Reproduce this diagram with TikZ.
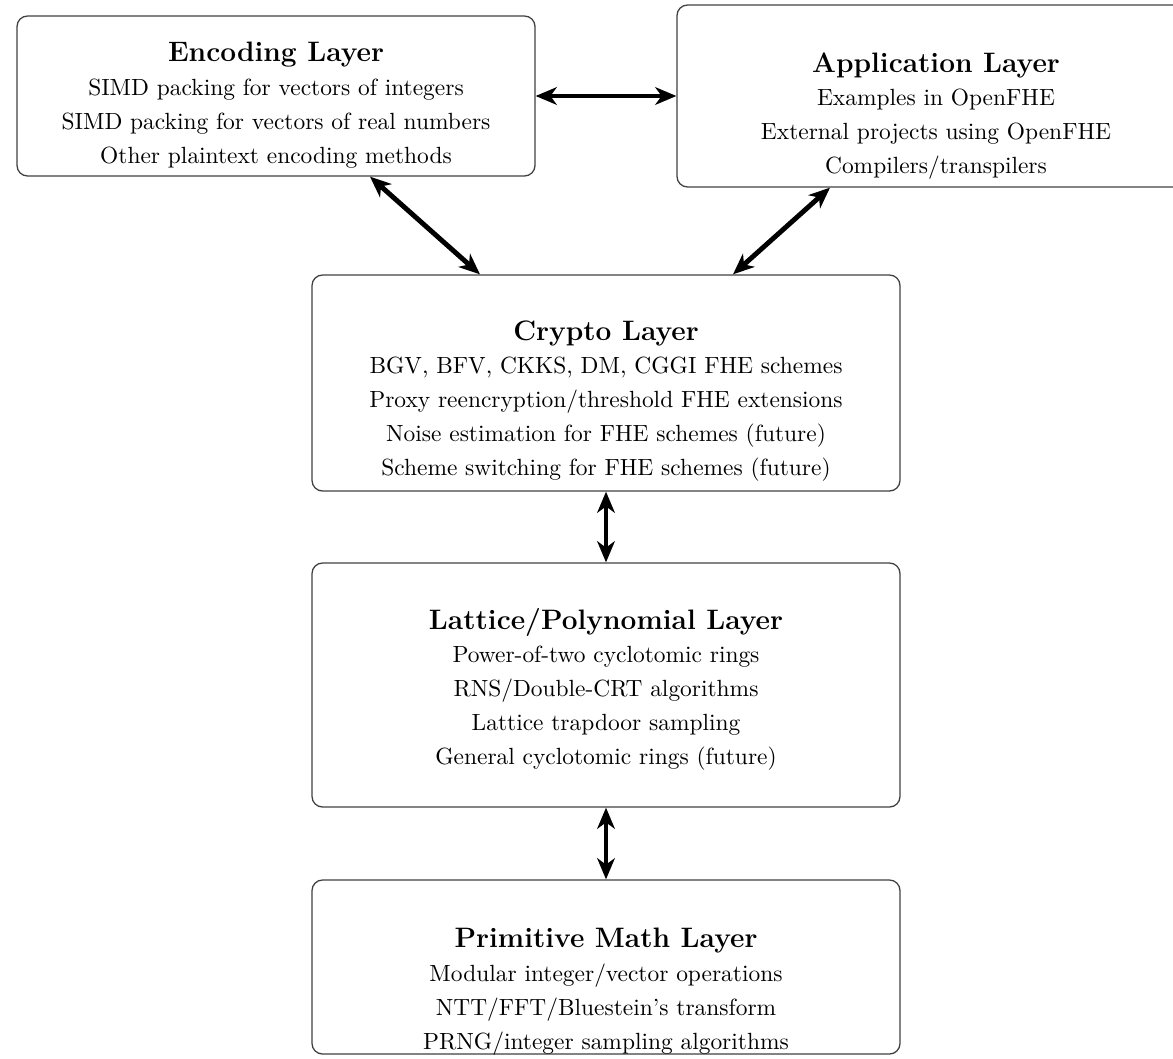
\documentclass[tikz,border=0pt]{standalone}
\usetikzlibrary{arrows.meta}
\def\pxu{0.427pt}
\tikzset{
  layer/.style={draw=black!75, line width=0.55pt, rounded corners=4.5pt, inner sep=0pt},
  ltext/.style={align=center, anchor=north, inner sep=0pt},
  arr/.style={line width=2.1pt, {Stealth[length=9pt,width=7.5pt,inset=2.7pt]}-{Stealth[length=9pt,width=7.5pt,inset=2.7pt]}}
}
\newcommand{\layertitle}[1]{{\large\bfseries #1}\\[2.2pt]}
\newcommand{\nl}{\\[2.5pt]}
\begin{document}
\begin{tikzpicture}[x=\pxu,y=-\pxu]
\useasboundingbox (0,0) rectangle (1173,1058);
% boxes
\node[layer, minimum width=518*\pxu, minimum height=160*\pxu] (enc) at (276,96) {};
\node[layer, minimum width=518*\pxu, minimum height=182*\pxu] (app) at (936,96) {};
\node[layer, minimum width=588*\pxu, minimum height=216*\pxu] (crypto) at (606,383) {};
\node[layer, minimum width=588*\pxu, minimum height=244*\pxu] (lat) at (606,685) {};
\node[layer, minimum width=588*\pxu, minimum height=174*\pxu] (prim) at (606,967) {};
% texts
\node[ltext] (enct) at (276,42)
  {\layertitle{Encoding Layer}SIMD packing for vectors of integers\nl SIMD packing for vectors of real numbers\nl Other plaintext encoding methods};
\node[ltext] (appt) at (936,52)
  {\layertitle{Application Layer}Examples in OpenFHE\nl External projects using OpenFHE\nl Compilers/transpilers};
\node[ltext] (cryptot) at (606,320)
  {\layertitle{Crypto Layer}BGV, BFV, CKKS, DM, CGGI FHE schemes\nl Proxy reencryption/threshold FHE extensions\nl Noise estimation for FHE schemes (future)\nl Scheme switching for FHE schemes (future)};
\node[ltext] (latt) at (606,608)
  {\layertitle{Lattice/Polynomial Layer}Power-of-two cyclotomic rings\nl RNS/Double-CRT algorithms\nl Lattice trapdoor sampling\nl General cyclotomic rings (future)};
\node[ltext] (primt) at (606,928)
  {\layertitle{Primitive Math Layer}Modular integer/vector operations\nl NTT/FFT/Bluestein's transform\nl PRNG/integer sampling algorithms};
% connectors
\draw[arr] (enc.east) -- (app.west);
\draw[arr] ([xshift=94*\pxu]enc.south) -- ([xshift=-126*\pxu]crypto.north);
\draw[arr] ([xshift=-106*\pxu]app.south) -- ([xshift=127*\pxu]crypto.north);
\draw[arr] (crypto.south) -- (lat.north);
\draw[arr] (lat.south) -- (prim.north);
\end{tikzpicture}
\end{document}
